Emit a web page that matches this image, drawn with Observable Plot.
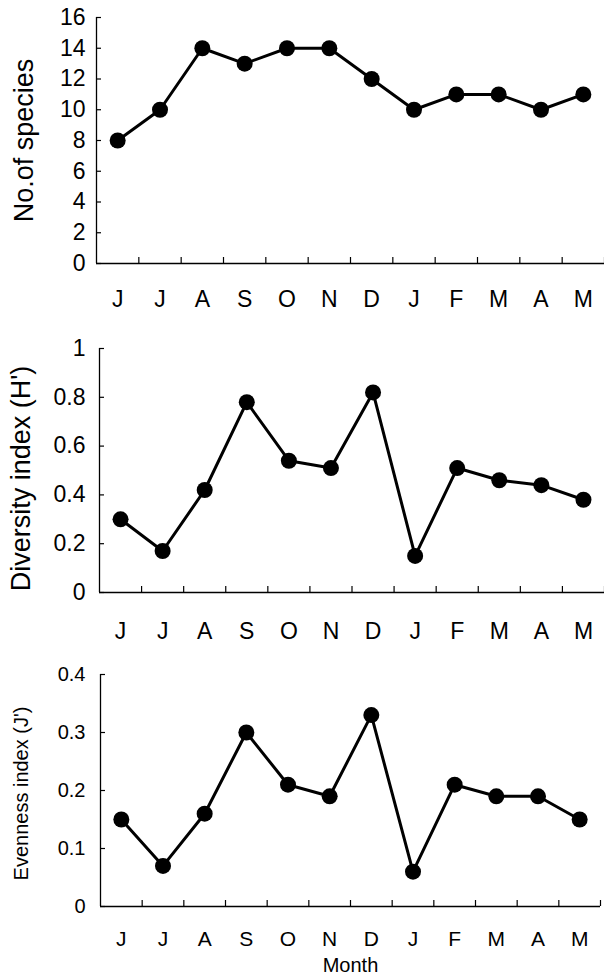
<!DOCTYPE html>
<html><head><meta charset="utf-8">
<script src="https://cdn.jsdelivr.net/npm/d3@7"></script>
<script src="https://cdn.jsdelivr.net/npm/@observablehq/plot@0.6"></script>
<style>
body{margin:0;background:#fff}
#chart{width:604px}
#chart svg{display:block}
</style>
</head><body><div id="chart"></div>
<script>
const months = ["J","J","A","S","O","N","D","J","F","M","A","M"];
const species = [8,10,14,13,14,14,12,10,11,11,10,11];
const diversity = [0.30,0.17,0.42,0.78,0.54,0.51,0.82,0.15,0.51,0.46,0.44,0.38];
const evenness = [0.15,0.07,0.16,0.30,0.21,0.19,0.33,0.06,0.21,0.19,0.19,0.15];
const speciesTicks = [0,2,4,6,8,10,12,14,16];
const diversityTicks = [0,0.2,0.4,0.6,0.8,1];
const evennessTicks = [0,0.1,0.2,0.3,0.4];
const FONT = '"Liberation Sans", Arial, Helvetica, sans-serif';

function panel(o) {
  const data = o.values.map((v, i) => ({i: i + 0.5, v}));
  const centers = months.map((m, i) => i + 0.5);
  const bounds = months.map((m, i) => i + 1);
  const marks = [
    Plot.ruleX([0], {stroke: "#000", strokeWidth: 1.3}),
    Plot.ruleY([o.domain[0]], {stroke: "#000", strokeWidth: 1.3}),
    Plot.axisY({ticks: o.ticks, tickSize: 5, dx: 5, tickFormat: () => "", label: null, stroke: "#000", strokeWidth: 1.2}),
    Plot.axisY({ticks: o.ticks, tickSize: 0, tickPadding: o.tickPad, tickFormat: o.fmt, fontSize: o.tickFont, label: null, fill: "#000"}),
    Plot.axisX({ticks: bounds, tickSize: 6, dy: -6, tickFormat: () => "", label: null, stroke: "#000", strokeWidth: 1.2}),
    Plot.axisX({ticks: centers, tickSize: 0, tickPadding: o.monthPad, tickFormat: d => months[Math.round(d - 0.5)], fontSize: o.monthFont, label: null, fill: "#000"}),
    Plot.text([o.label], {frameAnchor: "left", dx: o.labelX - o.ml, dy: o.labelDy || 0, rotate: -90, fontSize: o.labelFont, textAnchor: "middle", fill: "#000"}),
    Plot.line(data, {x: "i", y: "v", stroke: "#000", strokeWidth: 3}),
    Plot.dot(data, {x: "i", y: "v", r: 8, fill: "#000", stroke: "none"})
  ];
  if (o.xlabel) {
    marks.push(Plot.text([o.xlabel], {frameAnchor: "bottom", x: months.length / 2, dy: o.xlabelDy, fontSize: o.xlabelFont, textAnchor: "middle", fill: "#000"}));
  }
  return Plot.plot({
    width: 604, height: o.height,
    marginTop: o.mt, marginBottom: o.mb, marginLeft: o.ml, marginRight: o.mr,
    style: {fontFamily: FONT, color: "#000", background: "#fff", overflow: "visible"},
    x: {domain: [0, months.length], axis: null},
    y: {domain: o.domain, axis: null},
    marks
  });
}

const el = document.getElementById("chart");
el.append(panel({values: species, domain: [0, 16], ticks: speciesTicks, fmt: d => String(d),
  label: "No.of species", height: 320, mt: 17, mb: 57, ml: 96, mr: 0,
  tickFont: 23, tickPad: 11, monthFont: 23, monthPad: 27, labelFont: 27, labelX: 24}));
el.append(panel({values: diversity, domain: [0, 1], ticks: diversityTicks, fmt: d => d === 0 || d === 1 ? String(d) : d.toFixed(1),
  label: "Diversity index (H')", height: 335, mt: 28, mb: 63, ml: 99, mr: 0,
  tickFont: 23, tickPad: 14, monthFont: 23, monthPad: 30, labelFont: 27, labelX: 21, labelDy: 8}));
el.append(panel({values: evenness, domain: [0, 0.4], ticks: evennessTicks, fmt: d => d === 0 ? "0" : d.toFixed(1),
  label: "Evenness index (J')", height: 324, mt: 19, mb: 73, ml: 100, mr: 4,
  tickFont: 20, tickPad: 15, monthFont: 21, monthPad: 25, labelFont: 20, labelX: 21, labelDy: 3,
  xlabel: "Month", xlabelDy: 65, xlabelFont: 20}));
</script>
</body></html>
